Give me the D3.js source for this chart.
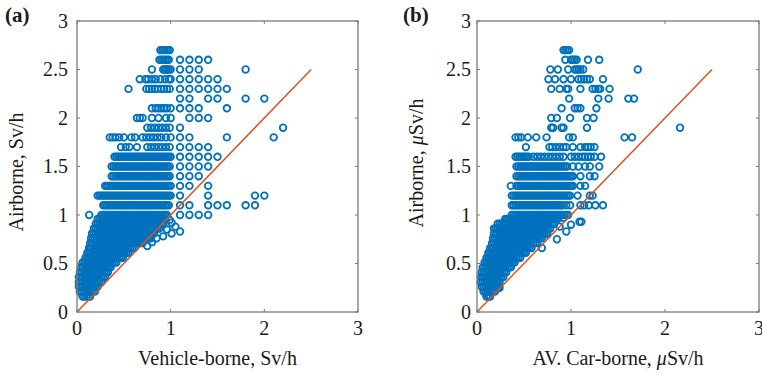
<!DOCTYPE html>
<html>
<head>
<meta charset="utf-8">
<script src="https://cdn.jsdelivr.net/npm/d3@7"></script>
<style>
  body { margin: 0; background: #fff; }
  svg { display: block; }
</style>
</head>
<body>
<svg id="chart" width="762" height="375"></svg>
<script>
// ---- data ----
const xTicks = [0, 1, 2, 3];
const yTicks = [0, 0.5, 1, 1.5, 2, 2.5, 3];
const refLine = [0, 2.5];

// panel (a): [airborne, vehicle-borne values...]
const rowsA = [
  [2.7, 0.89, 0.91, 0.93, 0.95, 0.97, 0.99],
  [2.6, 0.88, 0.90, 0.92, 0.94, 0.96, 0.98, 1.1, 1.2, 1.3, 1.4],
  [2.5, 0.80, 0.92, 0.94, 0.95, 0.96, 0.98, 1.0, 1.1, 1.2, 1.3, 1.8],
  [2.4, 0.67, 0.73, 0.76, 0.80, 0.84, 0.89, 0.94, 0.98, 1.0, 1.1, 1.2, 1.3, 1.4, 1.5],
  [2.3, 0.55, 0.74, 0.77, 0.80, 0.83, 0.86, 0.90, 0.93, 0.96, 0.99, 1.1, 1.2, 1.3, 1.4, 1.5, 1.6],
  [2.2, 1.1, 1.2, 1.4, 1.5, 1.8, 2.0],
  [2.1, 0.80, 0.84, 0.87, 0.90, 0.93, 0.96, 1.0, 1.1, 1.2, 1.3, 1.6],
  [2.0, 0.64, 0.67, 0.70, 0.80, 0.87, 0.95, 1.0, 1.2, 1.3, 1.4],
  [1.9, 0.75, 0.79, 0.83, 0.87, 0.91, 0.95, 0.99, 1.1, 2.2],
  [1.8, 0.35, 0.38, 0.41, 0.45, 0.50, 0.58, 0.62, 0.70, 0.74, 0.78, 0.82, 0.86, 0.90, 0.95, 1.0, 1.1, 1.2, 1.6, 2.1],
  [1.7, 0.47, 0.52, 0.56, 0.64, 0.75, 0.79, 0.83, 0.87, 0.91, 0.95, 0.99, 1.1, 1.2, 1.3, 1.4],
  [1.6, 0.40, 0.42, 0.44, 0.46, 0.48, 0.50, 0.52, 0.54, 0.56, 0.58, 0.60, 0.62, 0.64, 0.66, 0.68, 0.70, 0.72, 0.74, 0.76, 0.78, 0.80, 0.82, 0.84, 0.86, 0.88, 0.90, 0.92, 0.94, 0.96, 0.98, 1.00, 1.1, 1.2, 1.3, 1.4, 1.5],
  [1.5, 0.37, 0.39, 0.41, 0.43, 0.45, 0.47, 0.49, 0.51, 0.53, 0.55, 0.57, 0.59, 0.61, 0.63, 0.65, 0.67, 0.69, 0.71, 0.73, 0.75, 0.77, 0.79, 0.81, 0.83, 0.85, 0.87, 0.89, 0.91, 0.93, 0.95, 0.97, 0.99, 1.1, 1.2, 1.3, 1.4],
  [1.4, 0.37, 0.39, 0.41, 0.43, 0.45, 0.47, 0.49, 0.51, 0.53, 0.55, 0.57, 0.59, 0.61, 0.63, 0.65, 0.67, 0.69, 0.71, 0.73, 0.75, 0.77, 0.79, 0.81, 0.83, 0.85, 0.87, 0.89, 0.91, 0.93, 0.95, 0.97, 0.99, 1.1, 1.2, 1.3],
  [1.3, 0.30, 0.32, 0.34, 0.36, 0.38, 0.40, 0.42, 0.44, 0.46, 0.48, 0.50, 0.52, 0.54, 0.56, 0.58, 0.60, 0.62, 0.64, 0.66, 0.68, 0.70, 0.72, 0.74, 0.76, 0.78, 0.80, 0.82, 0.84, 0.86, 0.88, 0.90, 0.92, 0.94, 0.96, 0.98, 1.00, 1.1, 1.2, 1.4],
  [1.2, 0.22, 0.24, 0.26, 0.28, 0.30, 0.32, 0.34, 0.36, 0.38, 0.40, 0.42, 0.44, 0.46, 0.48, 0.50, 0.52, 0.54, 0.56, 0.58, 0.60, 0.62, 0.64, 0.66, 0.68, 0.70, 0.72, 0.74, 0.76, 0.78, 0.80, 0.82, 0.84, 0.86, 0.88, 0.90, 0.92, 0.94, 0.96, 0.98, 1.00, 1.1, 1.4, 1.9, 2.0],
  [1.1, 0.28, 0.30, 0.32, 0.34, 0.36, 0.38, 0.40, 0.42, 0.44, 0.46, 0.48, 0.50, 0.52, 0.54, 0.56, 0.58, 0.60, 0.62, 0.64, 0.66, 0.68, 0.70, 0.72, 0.74, 0.76, 0.78, 0.80, 0.82, 0.84, 0.86, 0.88, 0.90, 0.92, 0.94, 0.96, 0.98, 1.1, 1.2, 1.4, 1.5, 1.6, 1.8, 1.9],
  [1.0, 0.13, 1.1, 1.2, 1.3, 1.4]
];

// panel (a) dense low-dose mass
const blobA = [
  [1.0, 0.26, 0.28, 0.30, 0.32, 0.34, 0.36, 0.38, 0.40, 0.42, 0.44, 0.46, 0.48, 0.50, 0.52, 0.54, 0.56, 0.58, 0.60, 0.62, 0.64, 0.66, 0.68, 0.70, 0.72, 0.74, 0.76, 0.78, 0.80, 0.82, 0.84, 0.86, 0.88, 0.90, 0.92, 0.94, 0.96],
  [0.96, 0.22, 0.24, 0.26, 0.28, 0.30, 0.32, 0.34, 0.36, 0.38, 0.40, 0.42, 0.44, 0.46, 0.48, 0.50, 0.52, 0.54, 0.56, 0.58, 0.60, 0.62, 0.64, 0.66, 0.68, 0.70, 0.72, 0.74, 0.76, 0.78, 0.80, 0.82, 0.84, 0.86, 0.88, 0.90, 0.92, 0.94],
  [0.91, 0.20, 0.22, 0.24, 0.26, 0.28, 0.30, 0.32, 0.34, 0.36, 0.38, 0.40, 0.42, 0.44, 0.46, 0.48, 0.50, 0.52, 0.54, 0.56, 0.58, 0.60, 0.62, 0.64, 0.66, 0.68, 0.70, 0.72, 0.74, 0.76, 0.78, 0.80, 0.82, 0.84, 0.86, 0.88, 0.90, 0.92],
  [0.86, 0.18, 0.20, 0.22, 0.24, 0.26, 0.28, 0.30, 0.32, 0.34, 0.36, 0.38, 0.40, 0.42, 0.44, 0.46, 0.48, 0.50, 0.52, 0.54, 0.56, 0.58, 0.60, 0.62, 0.64, 0.66, 0.68, 0.70, 0.72, 0.74, 0.76, 0.78, 0.80, 0.82, 0.84, 0.86, 0.88],
  [0.81, 0.16, 0.18, 0.20, 0.22, 0.24, 0.26, 0.28, 0.30, 0.32, 0.34, 0.36, 0.38, 0.40, 0.42, 0.44, 0.46, 0.48, 0.50, 0.52, 0.54, 0.56, 0.58, 0.60, 0.62, 0.64, 0.66, 0.68, 0.70, 0.72, 0.74, 0.76, 0.78, 0.80, 0.82],
  [0.76, 0.15, 0.17, 0.19, 0.21, 0.23, 0.25, 0.27, 0.29, 0.31, 0.33, 0.35, 0.37, 0.39, 0.41, 0.43, 0.45, 0.47, 0.49, 0.51, 0.53, 0.55, 0.57, 0.59, 0.61, 0.63, 0.65, 0.67, 0.69, 0.71, 0.73, 0.75, 0.77, 0.79],
  [0.71, 0.14, 0.16, 0.18, 0.20, 0.22, 0.24, 0.26, 0.28, 0.30, 0.32, 0.34, 0.36, 0.38, 0.40, 0.42, 0.44, 0.46, 0.48, 0.50, 0.52, 0.54, 0.56, 0.58, 0.60, 0.62, 0.64, 0.66, 0.68, 0.70],
  [0.66, 0.13, 0.15, 0.17, 0.19, 0.21, 0.23, 0.25, 0.27, 0.29, 0.31, 0.33, 0.35, 0.37, 0.39, 0.41, 0.43, 0.45, 0.47, 0.49, 0.51, 0.53, 0.55, 0.57, 0.59, 0.61],
  [0.61, 0.11, 0.13, 0.15, 0.17, 0.19, 0.21, 0.23, 0.25, 0.27, 0.29, 0.31, 0.33, 0.35, 0.37, 0.39, 0.41, 0.43, 0.45, 0.47, 0.49, 0.51, 0.53, 0.55],
  [0.56, 0.09, 0.11, 0.13, 0.15, 0.17, 0.19, 0.21, 0.23, 0.25, 0.27, 0.29, 0.31, 0.33, 0.35, 0.37, 0.39, 0.41, 0.43, 0.45, 0.47, 0.49],
  [0.51, 0.06, 0.08, 0.10, 0.12, 0.14, 0.16, 0.18, 0.20, 0.22, 0.24, 0.26, 0.28, 0.30, 0.32, 0.34, 0.36, 0.38, 0.40, 0.42],
  [0.46, 0.04, 0.06, 0.08, 0.10, 0.12, 0.14, 0.16, 0.18, 0.20, 0.22, 0.24, 0.26, 0.28, 0.30, 0.32, 0.34, 0.36],
  [0.41, 0.03, 0.05, 0.07, 0.09, 0.11, 0.13, 0.15, 0.17, 0.19, 0.21, 0.23, 0.25, 0.27, 0.29, 0.31, 0.33],
  [0.36, 0.02, 0.04, 0.06, 0.08, 0.10, 0.12, 0.14, 0.16, 0.18, 0.20, 0.22, 0.24, 0.26, 0.28, 0.30],
  [0.31, 0.02, 0.04, 0.06, 0.08, 0.10, 0.12, 0.14, 0.16, 0.18, 0.20, 0.22, 0.24, 0.26],
  [0.26, 0.02, 0.04, 0.06, 0.08, 0.10, 0.12, 0.14, 0.16, 0.18, 0.20, 0.22],
  [0.21, 0.03, 0.05, 0.07, 0.09, 0.11, 0.13, 0.15, 0.17, 0.19],
  [0.16, 0.06, 0.08, 0.10, 0.12, 0.14]
];

// panel (a) scattered points [vehicle-borne, airborne]
const looseA = [
  [0.13, 0.66], [0.75, 0.68], [0.80, 0.72], [0.85, 0.76], [0.92, 0.78], [0.96, 0.85],
  [1.01, 0.81], [1.01, 0.92], [1.10, 0.83], [0.99, 0.95], [0.92, 0.90], [1.05, 0.88]
];

// panel (b): [airborne, car-borne values...]
const rowsB = [
  [2.7, 0.92, 0.94, 0.96, 0.98],
  [2.6, 0.94, 1.0, 1.02, 1.04, 1.06, 1.18, 1.3],
  [2.5, 0.78, 0.86, 0.97, 1.04, 1.06, 1.08, 1.10, 1.13, 1.71],
  [2.4, 0.76, 0.83, 0.92, 1.0, 1.08, 1.11, 1.14, 1.17, 1.20, 1.34],
  [2.3, 0.79, 0.88, 0.95, 0.97, 1.1, 1.23, 1.26, 1.29, 1.31, 1.41],
  [2.2, 0.98, 1.29, 1.40, 1.61, 1.67],
  [2.1, 0.90, 1.04, 1.07, 1.10, 1.27],
  [2.0, 0.79, 0.85, 0.99, 1.17, 1.24],
  [1.9, 0.79, 0.81, 0.90, 0.92, 1.17, 2.16],
  [1.8, 0.41, 0.44, 0.47, 0.54, 0.63, 0.74, 0.98, 1.02, 1.57, 1.65],
  [1.7, 0.52, 0.77, 0.80, 0.84, 0.88, 0.92, 0.95, 1.02, 1.10, 1.15, 1.18, 1.21, 1.25],
  [1.6, 0.41, 0.43, 0.45, 0.47, 0.49, 0.51, 0.53, 0.55, 0.60, 0.64, 0.68, 0.72, 0.76, 0.80, 0.84, 0.88, 0.92, 1.0, 1.04, 1.08, 1.12, 1.15, 1.18, 1.21, 1.25, 1.32],
  [1.5, 0.42, 0.44, 0.46, 0.48, 0.50, 0.52, 0.54, 0.56, 0.58, 0.60, 0.62, 0.64, 0.66, 0.68, 0.70, 0.72, 0.74, 0.76, 0.78, 0.80, 0.82, 0.84, 0.86, 0.88, 0.90, 0.92, 0.94, 0.96, 1.02, 1.08, 1.15, 1.20, 1.30],
  [1.4, 0.42, 0.44, 0.46, 0.48, 0.50, 0.52, 0.54, 0.56, 0.58, 0.60, 0.62, 0.64, 0.66, 0.68, 0.70, 0.72, 0.74, 0.76, 0.78, 0.80, 0.82, 0.84, 0.86, 0.88, 0.90, 0.92, 0.94, 0.96, 0.98, 1.00, 1.02, 1.10, 1.20, 1.25],
  [1.3, 0.36, 0.42, 0.44, 0.46, 0.48, 0.50, 0.52, 0.54, 0.56, 0.58, 0.60, 0.62, 0.64, 0.66, 0.68, 0.70, 0.72, 0.74, 0.76, 0.78, 0.80, 0.82, 0.84, 0.86, 0.88, 0.90, 0.92, 0.94, 0.96, 0.98, 1.00, 1.02, 1.10, 1.15],
  [1.2, 0.37, 0.39, 0.41, 0.43, 0.45, 0.47, 0.49, 0.51, 0.53, 0.55, 0.57, 0.59, 0.61, 0.63, 0.65, 0.67, 0.69, 0.71, 0.73, 0.75, 0.77, 0.79, 0.81, 0.83, 0.85, 0.87, 0.89, 0.91, 0.93, 0.95, 0.97, 0.99, 1.07, 1.20, 1.23],
  [1.1, 0.37, 0.39, 0.41, 0.43, 0.45, 0.47, 0.49, 0.51, 0.53, 0.55, 0.57, 0.59, 0.61, 0.63, 0.65, 0.67, 0.69, 0.71, 0.73, 0.75, 0.77, 0.79, 0.81, 0.83, 0.85, 0.87, 0.89, 0.91, 0.95, 0.99, 1.10, 1.14, 1.19, 1.26, 1.34]
];

// panel (b) dense low-dose mass
const blobB = [
  [1.0, 0.37, 0.39, 0.41, 0.43, 0.45, 0.47, 0.49, 0.51, 0.53, 0.55, 0.57, 0.59, 0.61, 0.63, 0.65, 0.67, 0.69, 0.71, 0.73, 0.75, 0.77, 0.79, 0.81, 0.83, 0.85, 0.87, 0.89, 0.91, 0.93, 0.95, 0.97],
  [0.96, 0.30, 0.32, 0.34, 0.36, 0.38, 0.40, 0.42, 0.44, 0.46, 0.48, 0.50, 0.52, 0.54, 0.56, 0.58, 0.60, 0.62, 0.64, 0.66, 0.68, 0.70, 0.72, 0.74, 0.76, 0.78, 0.80, 0.82, 0.84, 0.86],
  [0.91, 0.22, 0.24, 0.26, 0.28, 0.30, 0.32, 0.34, 0.36, 0.38, 0.40, 0.42, 0.44, 0.46, 0.48, 0.50, 0.52, 0.54, 0.56, 0.58, 0.60, 0.62, 0.64, 0.66, 0.68, 0.70, 0.72, 0.74, 0.76, 0.78, 0.80, 0.82],
  [0.86, 0.18, 0.20, 0.22, 0.24, 0.26, 0.28, 0.30, 0.32, 0.34, 0.36, 0.38, 0.40, 0.42, 0.44, 0.46, 0.48, 0.50, 0.52, 0.54, 0.56, 0.58, 0.60, 0.62, 0.64, 0.66, 0.68, 0.70, 0.72, 0.74, 0.76, 0.78],
  [0.81, 0.18, 0.20, 0.22, 0.24, 0.26, 0.28, 0.30, 0.32, 0.34, 0.36, 0.38, 0.40, 0.42, 0.44, 0.46, 0.48, 0.50, 0.52, 0.54, 0.56, 0.58, 0.60, 0.62, 0.64, 0.66, 0.68, 0.70, 0.72, 0.74],
  [0.76, 0.17, 0.19, 0.21, 0.23, 0.25, 0.27, 0.29, 0.31, 0.33, 0.35, 0.37, 0.39, 0.41, 0.43, 0.45, 0.47, 0.49, 0.51, 0.53, 0.55, 0.57, 0.59, 0.61, 0.63, 0.65, 0.67, 0.69],
  [0.71, 0.16, 0.18, 0.20, 0.22, 0.24, 0.26, 0.28, 0.30, 0.32, 0.34, 0.36, 0.38, 0.40, 0.42, 0.44, 0.46, 0.48, 0.50, 0.52, 0.54, 0.56, 0.58, 0.60, 0.62, 0.64],
  [0.66, 0.14, 0.16, 0.18, 0.20, 0.22, 0.24, 0.26, 0.28, 0.30, 0.32, 0.34, 0.36, 0.38, 0.40, 0.42, 0.44, 0.46, 0.48, 0.50, 0.52, 0.54, 0.56, 0.58],
  [0.61, 0.12, 0.14, 0.16, 0.18, 0.20, 0.22, 0.24, 0.26, 0.28, 0.30, 0.32, 0.34, 0.36, 0.38, 0.40, 0.42, 0.44, 0.46, 0.48, 0.50, 0.52],
  [0.56, 0.10, 0.12, 0.14, 0.16, 0.18, 0.20, 0.22, 0.24, 0.26, 0.28, 0.30, 0.32, 0.34, 0.36, 0.38, 0.40, 0.42, 0.44, 0.46],
  [0.51, 0.08, 0.10, 0.12, 0.14, 0.16, 0.18, 0.20, 0.22, 0.24, 0.26, 0.28, 0.30, 0.32, 0.34, 0.36, 0.38, 0.40],
  [0.46, 0.06, 0.08, 0.10, 0.12, 0.14, 0.16, 0.18, 0.20, 0.22, 0.24, 0.26, 0.28, 0.30, 0.32, 0.34, 0.36],
  [0.41, 0.05, 0.07, 0.09, 0.11, 0.13, 0.15, 0.17, 0.19, 0.21, 0.23, 0.25, 0.27, 0.29, 0.31],
  [0.36, 0.04, 0.06, 0.08, 0.10, 0.12, 0.14, 0.16, 0.18, 0.20, 0.22, 0.24, 0.26, 0.28],
  [0.31, 0.04, 0.06, 0.08, 0.10, 0.12, 0.14, 0.16, 0.18, 0.20, 0.22, 0.24],
  [0.26, 0.05, 0.07, 0.09, 0.11, 0.13, 0.15, 0.17, 0.19, 0.21, 0.23],
  [0.21, 0.07, 0.09, 0.11, 0.13, 0.15, 0.17, 0.19],
  [0.16, 0.10, 0.12, 0.14]
];

// panel (b) scattered points [car-borne, airborne]
const looseB = [
  [0.16, 0.66], [0.69, 0.66], [0.85, 0.75], [0.95, 0.83], [1.11, 0.93], [0.82, 0.99],
  [0.92, 0.97], [1.09, 0.93], [0.88, 0.88], [0.12, 0.16], [0.24, 0.25], [0.75, 0.80], [1.0, 0.90]
];

// ---- drawing ----
const BLUE = "#0072BD";
const ORANGE = "#D95319";
const AXIS = "#7a7a7a";
const FONT = "Liberation Serif, Times New Roman, Times, serif";

const svg = d3.select("#chart");
svg.append("rect").attr("width", 762).attr("height", 375).attr("fill", "#fff");

function toPoints(rows) {
  const pts = [];
  rows.forEach((r) => r.slice(1).forEach((x) => pts.push([x, r[0]])));
  return pts;
}

function drawPanel(cfg) {
  const x = d3.scaleLinear().domain([0, 3]).range([cfg.left, cfg.right]);
  const y = d3.scaleLinear().domain([0, 3]).range([cfg.bottom, cfg.top]);
  const g = svg.append("g").attr("font-family", FONT).attr("fill", "#1a1a1a");

  const pts = toPoints(cfg.blob).concat(toPoints(cfg.rows), cfg.loose);

  g.append("g")
    .selectAll("circle")
    .data(pts)
    .enter()
    .append("circle")
    .attr("cx", (d) => x(d[0]))
    .attr("cy", (d) => y(d[1]))
    .attr("r", 3.3)
    .attr("fill", "none")
    .attr("stroke", BLUE)
    .attr("stroke-width", 1.8);

  g.append("line")
    .attr("x1", x(refLine[0]))
    .attr("y1", y(refLine[0]))
    .attr("x2", x(refLine[1]))
    .attr("y2", y(refLine[1]))
    .attr("stroke", ORANGE)
    .attr("stroke-width", 1.5);

  // box + inward ticks on all sides
  g.append("rect")
    .attr("x", cfg.left)
    .attr("y", cfg.top)
    .attr("width", cfg.right - cfg.left)
    .attr("height", cfg.bottom - cfg.top)
    .attr("fill", "none")
    .attr("stroke", AXIS)
    .attr("stroke-width", 1.3);

  const tk = 3;
  xTicks.forEach((v) => {
    g.append("line").attr("x1", x(v)).attr("x2", x(v)).attr("y1", cfg.bottom).attr("y2", cfg.bottom - tk).attr("stroke", AXIS);
    g.append("line").attr("x1", x(v)).attr("x2", x(v)).attr("y1", cfg.top).attr("y2", cfg.top + tk).attr("stroke", AXIS);
  });
  yTicks.forEach((v) => {
    g.append("line").attr("y1", y(v)).attr("y2", y(v)).attr("x1", cfg.left).attr("x2", cfg.left + tk).attr("stroke", AXIS);
    g.append("line").attr("y1", y(v)).attr("y2", y(v)).attr("x1", cfg.right).attr("x2", cfg.right - tk).attr("stroke", AXIS);
  });

  g.append("g")
    .selectAll("text")
    .data(xTicks)
    .enter()
    .append("text")
    .attr("x", (d) => x(d))
    .attr("y", cfg.bottom + 23)
    .attr("text-anchor", "middle")
    .attr("font-size", 20)
    .text((d) => d);

  g.append("g")
    .selectAll("text")
    .data(yTicks)
    .enter()
    .append("text")
    .attr("x", cfg.left - cfg.yLabelGap)
    .attr("y", (d) => y(d) + 6.5)
    .attr("text-anchor", "end")
    .attr("font-size", 20)
    .text((d) => d);

  // x label
  const xl = g.append("text")
    .attr("x", (cfg.left + cfg.right) / 2)
    .attr("y", 365)
    .attr("text-anchor", "middle")
    .attr("font-size", 20);
  cfg.xLabel.forEach((p) => xl.append("tspan").attr("font-style", p[1] ? "italic" : null).text(p[0]));

  // y label
  const yl = g.append("text")
    .attr("transform", `translate(${cfg.yLabelX},${cfg.yLabelY}) rotate(-90)`)
    .attr("text-anchor", "middle")
    .attr("font-size", 20);
  cfg.yLabel.forEach((p) => yl.append("tspan").attr("font-style", p[1] ? "italic" : null).text(p[0]));

  g.append("text")
    .attr("x", cfg.tagX)
    .attr("y", 22)
    .attr("font-size", 21)
    .attr("font-weight", "bold")
    .text(cfg.tag);
}

drawPanel({
  left: 77, right: 358, top: 21, bottom: 312,
  rows: rowsA, blob: blobA, loose: looseA,
  yLabelGap: 9, tag: "(a)", tagX: 5,
  xLabel: [["Vehicle-borne, Sv/h", false]],
  yLabel: [["Airborne, Sv/h", false]],
  yLabelX: 23, yLabelY: 172
});

drawPanel({
  left: 477, right: 759, top: 21, bottom: 312,
  rows: rowsB, blob: blobB, loose: looseB,
  yLabelGap: 6, tag: "(b)", tagX: 403,
  xLabel: [["AV. Car-borne, ", false], ["\u03bc", true], ["Sv/h", false]],
  yLabel: [["Airborne, ", false], ["\u03bc", true], ["Sv/h", false]],
  yLabelX: 423, yLabelY: 163
});
</script>
</body>
</html>
